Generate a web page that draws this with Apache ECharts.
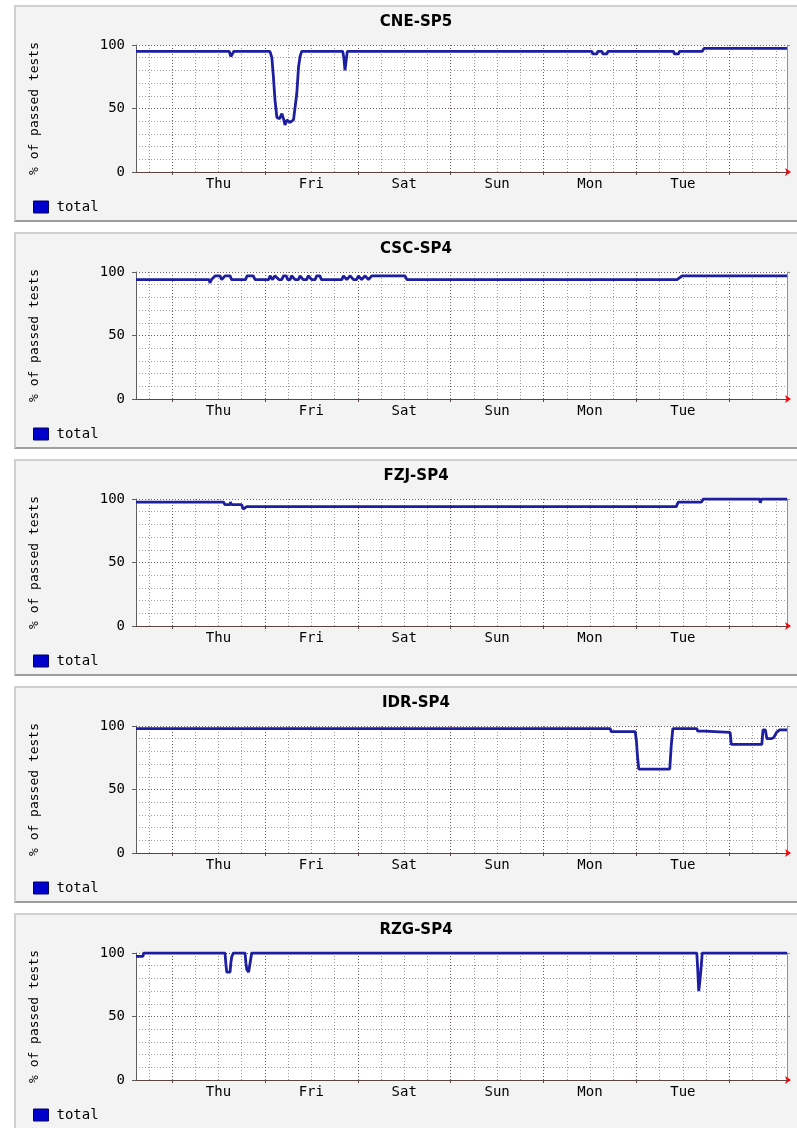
<!DOCTYPE html>
<html>
<head>
<meta charset="utf-8">
<script src="https://cdn.jsdelivr.net/npm/echarts@6/dist/echarts.min.js"></script>
<style>
  html, body { margin: 0; padding: 0; background: #ffffff; overflow: hidden; width: 797px; height: 1128px; }
  .panel { position: absolute; left: 14px; width: 800px; height: 213px;
           border-top: 2px solid #cfcfcf; border-left: 2px solid #cfcfcf;
           border-bottom: 2px solid #9e9e9e; border-right: 2px solid #9e9e9e;
           background: #f3f3f3; }
  .chart { position: absolute; left: 0; top: 0; width: 800px; height: 213px; }
</style>
</head>
<body>
<div id="root"></div>
<script>
// ---------- data ----------
const chartTitles = ['CNE-SP5', 'CSC-SP4', 'FZJ-SP4', 'IDR-SP4', 'RZG-SP4'];
const seriesName = 'total';
const yAxisName = '% of passed tests';
const yTicks = [0, 50, 100];
const dayLabels = ['Thu', 'Fri', 'Sat', 'Sun', 'Mon', 'Tue'];
// hours counted from Wednesday 00:00 of the first shown week
const dayLabelHours = [36, 60, 84, 108, 132, 156];
const midnightHours = [24, 48, 72, 96, 120, 144, 168];
const sixHourHours = [18, 30, 36, 42, 54, 60, 66, 78, 84, 90, 102, 108, 114, 126, 132, 138, 150, 156, 162, 174, 180];
const rangeStartHour = 14.7;
const rangeEndHour = 182.9;

const cneSp5 = [[14.7,95],[38.8,95],[39.2,91],[39.6,90],[40.0,95],[49.3,95],[49.8,90],[50.2,75],[50.6,57],[51.1,43],[51.8,42],[52.4,46],[52.8,42],[53.2,37],[53.7,41],[54.1,40],[54.5,39],[54.95,39],[55.4,41],[55.8,42],[56.25,62],[56.7,83],[57.1,91],[57.5,95],[68.1,95],[68.4,90],[68.7,80],[69.0,88],[69.3,95],[132.5,95],[132.7,93],[133.8,93],[134.0,95],[135.1,95],[135.3,93],[136.4,93],[136.6,95],[153.6,95],[153.8,93],[154.9,93],[155.1,95],[161.0,95],[161.5,97.4],[182.9,97.4]];

const cscSp4 = [[14.7,94],[33.6,94],[33.8,91.5],[34.2,94],[34.7,94],[35.2,97],[36.4,97],[36.85,94],[37.3,94],[37.71,97],[39.0,97],[39.4,94],[43.0,94],[43.4,97],[45.0,97],[45.47,94],[49.0,94],[49.34,97],[50.0,94],[50.6,97],[51.07,97],[51.6,94],[52.36,94],[52.8,97],[53.5,97],[53.9,94],[54.51,94],[54.9,97],[55.37,97],[55.8,94],[56.66,94],[57.1,97],[57.5,97],[57.9,94],[58.8,94],[59.2,97],[59.7,97],[60.1,94],[60.98,94],[61.4,97],[62.2,97],[62.6,94],[67.9,94],[68.3,97],[68.8,97],[69.17,94],[69.6,94],[70.0,97],[70.5,97],[70.9,94],[71.7,94],[72.17,97],[72.6,97],[73.0,94],[73.5,94],[73.9,97],[74.3,97],[74.76,94],[75.2,94],[75.6,97],[84.2,97],[84.7,94],[154.5,94],[155.8,97],[182.9,97]];

const fzjSp4 = [[14.7,97.6],[37.3,97.6],[37.7,95.5],[39.0,95.5],[39.1,97.6],[39.4,95.5],[42.0,95.5],[42.4,92],[42.9,92],[43.3,94],[154.3,94],[154.8,97.6],[160.8,97.6],[161.3,100],[175.8,100],[176.0,97],[176.3,100],[182.9,100]];

const idrSp4 = [[14.7,98],[137.2,98],[137.5,95.5],[143.7,95.5],[144.0,88],[144.3,75],[144.6,66],[152.6,66],[153.0,85],[153.4,98],[159.6,98],[159.8,96],[161.6,96],[161.9,95],[168.2,95],[168.5,85.5],[176.4,85.5],[176.7,97],[177.3,97],[177.7,90],[178.2,88.6],[178.8,90],[179.5,91],[180.2,95],[181.0,97],[182.9,97]];

const rzgSp4 = [[14.7,97.4],[16.5,97.4],[16.7,100],[37.7,100],[37.9,92],[38.14,85],[39.0,85],[39.2,92],[39.44,97],[39.85,100],[42.88,100],[43.1,92],[43.32,87],[43.8,85],[44.2,85],[44.6,100],[159.6,100],[159.8,89],[160.1,70],[160.4,78],[160.7,88],[161.0,100],[182.9,100]];

const allSeries = [cneSp5, cscSp4, fzjSp4, idrSp4, rzgSp4];

// ---------- rendering ----------
const mono = '"DejaVu Sans Mono", monospace';
const panelTops = [5, 232, 459, 686, 913];

function buildOption(title, data) {
  return {
    animation: false,
    backgroundColor: '#f3f3f3',
    title: {
      text: title, left: 'center', top: 8, padding: 0,
      textStyle: { fontFamily: '"DejaVu Sans", sans-serif', fontWeight: 'bold', fontSize: 15, color: '#000' }
    },
    legend: {
      left: 17, top: 193, padding: 0, icon: 'rect', itemWidth: 15, itemHeight: 12,
      data: [{ name: seriesName, itemStyle: { color: '#0000cc', borderColor: '#000066', borderWidth: 1 } }],
      textStyle: { fontFamily: mono, fontSize: 14, color: '#000', padding: [0, 0, 0, 3] }
    },
    grid: { left: 120, top: 38, width: 651, height: 127, show: true, backgroundColor: '#ffffff', borderWidth: 0 },
    xAxis: [
      {
        type: 'value', min: rangeStartHour, max: rangeEndHour, z: 1,
        axisLine: { show: true, lineStyle: { color: '#5a4444', width: 1 } },
        axisTick: { show: true, inside: false, length: 3, customValues: midnightHours, lineStyle: { color: '#5a4444' } },
        axisLabel: {
          customValues: dayLabelHours, margin: 5,
          fontFamily: mono, fontSize: 14, color: '#000',
          formatter: function (v) { const i = dayLabelHours.indexOf(v); return i >= 0 ? dayLabels[i] : ''; }
        },
        splitLine: { show: true, lineStyle: { color: '#705a5a', type: [1, 2], width: 1 } }
      },
      {
        type: 'value', min: rangeStartHour, max: rangeEndHour, z: 0, position: 'bottom',
        axisLine: { show: true, symbol: ['none', 'arrow'], symbolSize: [6, 6], symbolOffset: [0, 4], lineStyle: { color: '#ff0000', width: 1 } },
        axisTick: { show: false, customValues: sixHourHours },
        axisLabel: { show: false },
        splitLine: { show: true, lineStyle: { color: '#999999', type: [1, 2], width: 1 } }
      }
    ],
    yAxis: [
      {
        type: 'value', min: yTicks[0], max: yTicks[2], interval: yTicks[1] - yTicks[0],
        name: yAxisName, nameLocation: 'middle', nameGap: 95, nameRotate: 90,
        nameTextStyle: { fontFamily: mono, fontSize: 13, color: '#000' },
        axisLine: { show: true, lineStyle: { color: '#606060', width: 1 } },
        axisTick: { show: true, length: 4, lineStyle: { color: '#606060' } },
        axisLabel: { margin: 11, fontFamily: mono, fontSize: 14, color: '#000' },
        splitLine: { show: true, lineStyle: { color: '#705a5a', type: [1, 2], width: 1 } },
        minorTick: { show: false, splitNumber: 5 },
        minorSplitLine: { show: true, lineStyle: { color: '#a0a0a0', type: [1, 2], width: 1 } }
      },
      {
        type: 'value', min: yTicks[0], max: yTicks[2], interval: yTicks[1] - yTicks[0], position: 'right',
        axisLine: { show: true, lineStyle: { color: '#909090', width: 1 } },
        axisTick: { show: true, length: 3, lineStyle: { color: '#909090' } },
        axisLabel: { show: false },
        splitLine: { show: false }
      }
    ],
    series: [{
      name: seriesName, type: 'line', xAxisIndex: 0, yAxisIndex: 0,
      data: data, showSymbol: false, symbol: 'none',
      lineStyle: { color: '#1e1ea0', width: 2.8 },
      itemStyle: { color: '#1e1ea0' },
      z: 5
    }]
  };
}

const root = document.getElementById('root');
chartTitles.forEach(function (t, i) {
  const panel = document.createElement('div');
  panel.className = 'panel';
  panel.style.top = panelTops[i] + 'px';
  const c = document.createElement('div');
  c.className = 'chart';
  panel.appendChild(c);
  root.appendChild(panel);
  const chart = echarts.init(c, null, { renderer: 'canvas' });
  chart.setOption(buildOption(t, allSeries[i]));
});
</script>
</body>
</html>
